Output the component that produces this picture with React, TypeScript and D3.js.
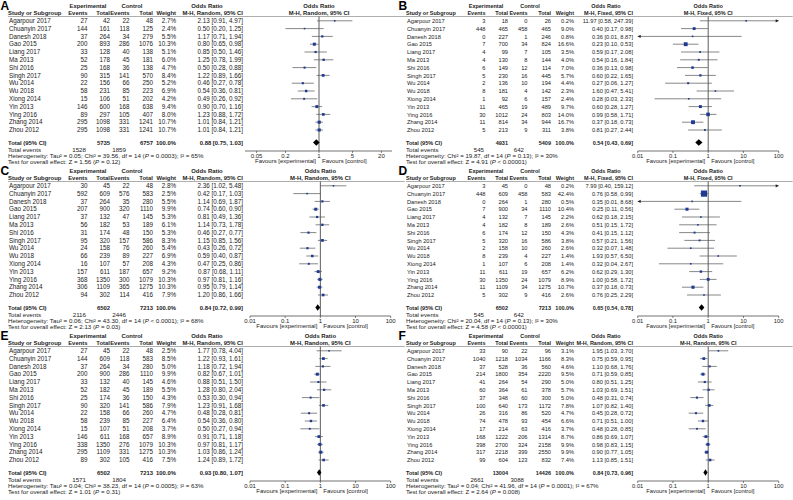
import React, { useEffect } from "react";
import * as d3 from "d3";

const studies = ["Agarpour 2017","Chuanyin 2017","Danesh 2018","Gao 2015","Liang 2017","Ma 2013","Shi 2016","Singh 2017","Wu 2014","Wu 2018","Xiong 2014","Yin 2013","Ying 2016","Zhang 2014","Zhou 2012"];

const ticksA = [0.05, 0.2, 1, 5, 20];
const ticksWide = [0.01, 0.1, 1, 10, 100];

// Panel A
const aExpEvents = [27,144,37,200,33,52,25,90,22,58,15,146,89,295,295];
const aExpTotal = [42,161,264,893,128,178,168,315,156,231,106,600,297,1098,1098];
const aCtlEvents = [22,118,34,286,40,45,36,141,66,85,51,168,105,331,331];
const aCtlTotal = [48,125,279,1076,138,181,138,570,250,223,202,638,407,1241,1241];
const aWeight = [2.7,2.4,5.5,10.3,5.1,6.0,4.7,8.4,5.2,6.9,4.2,9.4,8.0,10.7,10.7];
const aOR = [2.13,0.50,1.17,0.80,0.85,1.25,0.50,1.22,0.46,0.54,0.49,0.90,1.23,1.01,1.01];
const aLo = [0.91,0.20,0.71,0.65,0.50,0.78,0.28,0.89,0.27,0.36,0.26,0.70,0.88,0.84,0.84];
const aHi = [4.97,1.25,1.94,0.98,1.46,1.99,0.88,1.66,0.78,0.81,0.92,1.16,1.72,1.21,1.21];
const aTotal = [5735, 6757, 0.88, 0.75, 1.03];
const aEvents = [1528, 1859];
const aHet = "Heterogeneity: Tau² = 0.05; Chi² = 39.56, df = 14 (P = 0.0003); I² = 65%";
const aTest = "Test for overall effect: Z = 1.56 (P = 0.12)";

// Panel B
const bExpEvents = [3,448,0,7,4,4,6,5,2,8,1,11,30,11,5];
const bExpTotal = [18,465,227,700,99,130,149,230,136,181,92,465,1012,814,213];
const bCtlEvents = [0,458,1,34,7,8,12,16,10,4,6,19,24,34,9];
const bCtlTotal = [26,465,246,824,105,144,114,445,194,142,157,489,803,944,311];
const bWeight = [0.2,9.0,0.8,16.6,3.5,4.0,7.0,5.7,4.4,2.3,2.4,9.7,14.0,16.7,3.8];
const bOR = [11.97,0.40,0.36,0.23,0.59,0.54,0.36,0.60,0.27,1.60,0.28,0.60,0.99,0.37,0.81];
const bLo = [0.58,0.17,0.01,0.10,0.17,0.16,0.13,0.22,0.06,0.47,0.03,0.28,0.58,0.18,0.27];
const bHi = [247.39,0.98,8.87,0.53,2.08,1.84,0.98,1.65,1.27,5.41,2.33,1.27,1.71,0.73,2.44];
const bTotal = [4931, 5409, 0.54, 0.43, 0.69];
const bEvents = [545, 642];
const bHet = "Heterogeneity: Chi² = 19.87, df = 14 (P = 0.13); I² = 30%";
const bTest = "Test for overall effect: Z = 4.91 (P < 0.00001)";

// Panel C
const cExpEvents = [30,592,37,207,37,56,31,95,24,66,16,157,368,306,94];
const cExpTotal = [45,609,264,900,132,182,174,320,158,239,107,611,1350,1109,302];
const cCtlEvents = [22,576,35,320,47,53,48,157,76,89,57,187,300,365,114];
const cCtlTotal = [48,583,280,1110,145,189,150,586,260,227,208,657,1079,1275,416];
const cWeight = [2.8,2.5,5.5,9.9,5.3,6.1,5.3,8.3,5.4,6.9,4.3,9.2,10.3,10.3,7.9];
const cOR = [2.36,0.42,1.14,0.74,0.81,1.14,0.46,1.15,0.43,0.59,0.47,0.87,0.97,0.95,1.20];
const cLo = [1.02,0.17,0.69,0.60,0.49,0.73,0.27,0.85,0.26,0.40,0.25,0.68,0.81,0.79,0.86];
const cHi = [5.48,1.03,1.87,0.90,1.36,1.78,0.77,1.56,0.72,0.87,0.86,1.11,1.16,1.14,1.66];
const cTotal = [6502, 7213, 0.84, 0.72, 0.99];
const cEvents = [2116, 2446];
const cHet = "Heterogeneity: Tau² = 0.06; Chi² = 43.30, df = 14 (P < 0.0001); I² = 68%";
const cTest = "Test for overall effect: Z = 2.13 (P = 0.03)";

// Panel D
const dExpEvents = [3,448,0,7,4,4,6,5,2,8,1,11,30,11,5];
const dExpTotal = [45,609,264,900,132,182,174,320,158,239,107,611,1350,1109,302];
const dCtlEvents = [0,458,1,34,7,8,12,16,10,4,6,19,24,34,9];
const dCtlTotal = [48,583,280,1110,145,189,150,586,260,227,208,657,1079,1275,416];
const dWeight = [0.2,42.4,0.5,10.4,2.2,2.6,4.3,3.8,2.6,1.4,1.4,6.2,8.9,10.7,2.6];
const dOR = [7.99,0.76,0.35,0.25,0.62,0.51,0.41,0.57,0.32,1.93,0.32,0.62,1.00,0.37,0.76];
const dLo = [0.40,0.58,0.01,0.11,0.18,0.15,0.15,0.21,0.07,0.57,0.04,0.29,0.58,0.18,0.25];
const dHi = [159.12,0.99,8.68,0.56,2.15,1.72,1.12,1.56,1.48,6.50,2.67,1.30,1.72,0.73,2.29];
const dTotal = [6502, 7213, 0.65, 0.54, 0.78];
const dEvents = [545, 642];
const dHet = "Heterogeneity: Chi² = 20.04, df = 14 (P = 0.13); I² = 30%";
const dTest = "Test for overall effect: Z = 4.58 (P < 0.00001)";

// Panel E
const eExpEvents = [27,144,37,200,33,52,25,90,22,58,15,146,338,295,89];
const eExpTotal = [45,609,264,900,132,182,174,320,158,239,107,611,1350,1109,302];
const eCtlEvents = [22,118,34,286,40,45,36,141,66,85,51,168,276,331,105];
const eCtlTotal = [48,583,280,1110,145,189,150,586,260,227,208,657,1079,1275,416];
const eWeight = [2.5,8.5,5.0,9.9,4.6,5.5,4.3,7.9,4.7,6.4,3.7,8.9,10.3,10.3,7.5];
const eOR = [1.77,1.22,1.18,0.82,0.88,1.28,0.53,1.23,0.48,0.54,0.50,0.91,0.97,1.03,1.24];
const eLo = [0.78,0.93,0.72,0.67,0.51,0.80,0.30,0.91,0.28,0.36,0.27,0.71,0.81,0.86,0.89];
const eHi = [4.04,1.61,1.94,1.01,1.50,2.04,0.94,1.68,0.81,0.80,0.94,1.18,1.17,1.24,1.72];
const eTotal = [6502, 7213, 0.93, 0.80, 1.07];
const eEvents = [1571, 1804];
const eHet = "Heterogeneity: Tau² = 0.04; Chi² = 38.23, df = 14 (P = 0.0005); I² = 63%";
const eTest = "Test for overall effect: Z = 1.01 (P = 0.31)";

// Panel F
const fExpEvents = [33,1040,37,214,41,60,37,100,26,74,17,168,398,317,99];
const fExpTotal = [90,1218,528,1800,264,364,348,640,316,478,214,1222,2700,2218,604];
const fCtlEvents = [22,1034,36,354,54,61,60,173,86,93,63,206,324,399,123];
const fCtlTotal = [96,1166,560,2220,290,378,300,1172,520,454,416,1314,2158,2550,832];
const fWeight = [3.1,8.3,4.6,9.5,5.0,5.7,5.0,7.8,4.7,6.6,3.7,8.7,9.9,9.9,7.4];
const fOR = [1.95,0.75,1.10,0.71,0.80,1.03,0.48,1.07,0.45,0.71,0.48,0.86,0.98,0.90,1.13];
const fLo = [1.03,0.59,0.68,0.59,0.51,0.69,0.31,0.82,0.28,0.51,0.28,0.69,0.83,0.77,0.85];
const fHi = [3.70,0.95,1.76,0.85,1.25,1.51,0.74,1.40,0.72,1.00,0.85,1.07,1.15,1.05,1.51];
const fTotal = [13004, 14426, 0.84, 0.73, 0.96];
const fEvents = [2661, 3088];
const fHet = "Heterogeneity: Tau² = 0.04; Chi² = 41.96, df = 14 (P = 0.0001); I² = 67%";
const fTest = "Test for overall effect: Z = 2.64 (P = 0.008)";

const FONT = "'Liberation Sans', Arial, sans-serif";
const TXT = "#222";

type Sizes = { fs: number; hfs: number; nfs: number; afs: number };

type PanelProps = {
  letter: string; x0: number; y0: number; model: string; ticks: number[];
  domain: [number, number]; range: [number, number]; axisX: [number, number];
  ciRight: number; ciHead: number; sz: Sizes;
  expEv: number[]; expTot: number[]; ctlEv: number[]; ctlTot: number[];
  weight: number[]; or: number[]; lo: number[]; hi: number[];
  total: number[]; events: number[]; het: string; test: string;
};

const fmtCI = (o: number, l: number, h: number) => `${o.toFixed(2)} [${l.toFixed(2)}, ${h.toFixed(2)}]`;

function Itext({ s, x, y, size }: { s: string; x: number; y: number; size: number }) {
  const parts = s.split(/(?<=\()P/);
  return (
    <text x={x} y={y} fontSize={size} fill={TXT}>
      {parts.map((p, i) => (
        <React.Fragment key={i}>
          {i > 0 && <tspan fontStyle="italic">P</tspan>}
          <tspan>{p}</tspan>
        </React.Fragment>
      ))}
    </text>
  );
}

function Panel(p: PanelProps) {
  const x = d3.scaleLog().domain(p.domain).range(p.range);
  const rowY = (i: number) => 20.8 + i * 7.8;
  const totY = 142.5;
  const axisY = 151;
  const ruleY = 16.5;
  const { fs, hfs, nfs, afs } = p.sz;
  const xc = x(1);
  const minV = x.invert(p.axisX[0]);
  const maxV = x.invert(p.axisX[1]);
  const cols = { ev1: 87.5, tot1: 110, ev2: 129.5, tot2: 153, w: 176 };
  return (
    <g transform={`translate(${p.x0},${p.y0})`} fontFamily={FONT}>
      <text x={0.5} y={9.8} fontSize={12} fontWeight="bold" fill="#000">{p.letter}</text>
      <text x={88} y={7.5} fontSize={hfs} fontWeight="bold" fill={TXT} textAnchor="middle">Experimental</text>
      <text x={132} y={7.5} fontSize={hfs} fontWeight="bold" fill={TXT} textAnchor="middle">Control</text>
      <text x={p.ciHead} y={7.5} fontSize={hfs} fontWeight="bold" fill={TXT} textAnchor="middle">Odds Ratio</text>
      <text x={xc} y={7.5} fontSize={hfs} fontWeight="bold" fill={TXT} textAnchor="middle">Odds Ratio</text>
      <text x={8} y={14.5} fontSize={hfs} fontWeight="bold" fill={TXT}>Study or Subgroup</text>
      <text x={cols.ev1} y={14.5} fontSize={hfs} fontWeight="bold" fill={TXT} textAnchor="end">Events</text>
      <text x={cols.tot1} y={14.5} fontSize={hfs} fontWeight="bold" fill={TXT} textAnchor="end">Total</text>
      <text x={cols.ev2} y={14.5} fontSize={hfs} fontWeight="bold" fill={TXT} textAnchor="end">Events</text>
      <text x={cols.tot2} y={14.5} fontSize={hfs} fontWeight="bold" fill={TXT} textAnchor="end">Total</text>
      <text x={cols.w} y={14.5} fontSize={hfs} fontWeight="bold" fill={TXT} textAnchor="end">Weight</text>
      <text x={p.ciRight} y={14.5} fontSize={hfs} fontWeight="bold" fill={TXT} textAnchor="end">{p.model}</text>
      <text x={xc} y={14.5} fontSize={hfs} fontWeight="bold" fill={TXT} textAnchor="middle">{p.model}</text>
      <line x1={8} x2={p.axisX[1] + 14} y1={ruleY} y2={ruleY} stroke="#777" strokeWidth={0.6} />
      <line x1={xc} x2={xc} y1={ruleY} y2={axisY} stroke="#333" strokeWidth={0.8} />
      {studies.map((s, i) => {
        const y = rowY(i);
        const by = y + 2.1;
        const l = Math.max(p.lo[i], minV);
        const h = Math.min(p.hi[i], maxV);
        const side = Math.max(1.6, 0.95 * Math.sqrt(p.weight[i]));
        return (
          <g key={s}>
            <text x={9} y={by} fontSize={fs} fill={TXT}>{s}</text>
            <text x={cols.ev1} y={by} fontSize={fs} fill={TXT} textAnchor="end">{p.expEv[i]}</text>
            <text x={cols.tot1} y={by} fontSize={fs} fill={TXT} textAnchor="end">{p.expTot[i]}</text>
            <text x={cols.ev2} y={by} fontSize={fs} fill={TXT} textAnchor="end">{p.ctlEv[i]}</text>
            <text x={cols.tot2} y={by} fontSize={fs} fill={TXT} textAnchor="end">{p.ctlTot[i]}</text>
            <text x={cols.w} y={by} fontSize={fs} fill={TXT} textAnchor="end">{p.weight[i].toFixed(1)}%</text>
            <text x={p.ciRight} y={by} fontSize={fs} fill={TXT} textAnchor="end">{fmtCI(p.or[i], p.lo[i], p.hi[i])}</text>
            <line x1={x(l)} x2={x(h)} y1={y} y2={y} stroke="#555" strokeWidth={0.7} />
            {p.hi[i] > maxV && (
              <path d={`M${x(h)},${y} l-3,-1.6 l0,3.2 z`} fill="#222" />
            )}
            {p.lo[i] < minV && (
              <path d={`M${x(l)},${y} l3,-1.6 l0,3.2 z`} fill="#222" />
            )}
            <rect x={x(p.or[i]) - side / 2} y={y - side / 2} width={side} height={side} fill="#1f3a93" />
          </g>
        );
      })}
      <text x={8} y={totY + 2.1} fontSize={hfs} fontWeight="bold" fill={TXT}>Total (95% CI)</text>
      <text x={cols.tot1} y={totY + 2.1} fontSize={hfs} fontWeight="bold" fill={TXT} textAnchor="end">{p.total[0]}</text>
      <text x={cols.tot2} y={totY + 2.1} fontSize={hfs} fontWeight="bold" fill={TXT} textAnchor="end">{p.total[1]}</text>
      <text x={cols.w} y={totY + 2.1} fontSize={hfs} fontWeight="bold" fill={TXT} textAnchor="end">100.0%</text>
      <text x={p.ciRight} y={totY + 2.1} fontSize={hfs} fontWeight="bold" fill={TXT} textAnchor="end">{fmtCI(p.total[2], p.total[3], p.total[4])}</text>
      <path d={`M${x(p.total[3])},${totY} L${x(p.total[2])},${totY - 3.2} L${x(p.total[4])},${totY} L${x(p.total[2])},${totY + 3.2} Z`} fill="#000" />
      <text x={8} y={totY + 9.6} fontSize={nfs} fill={TXT}>Total events</text>
      <text x={86} y={totY + 9.6} fontSize={nfs} fill={TXT} textAnchor="end">{p.events[0]}</text>
      <text x={126} y={totY + 9.6} fontSize={nfs} fill={TXT} textAnchor="end">{p.events[1]}</text>
      <Itext s={p.het} x={8} y={totY + 15.3} size={nfs} />
      <Itext s={p.test} x={8} y={totY + 21} size={nfs} />
      <line x1={p.axisX[0]} x2={p.axisX[1]} y1={axisY} y2={axisY} stroke="#333" strokeWidth={0.7} />
      {p.ticks.map((t) => (
        <g key={t}>
          <line x1={x(t)} x2={x(t)} y1={axisY} y2={axisY + 2} stroke="#333" strokeWidth={0.6} />
          <text x={x(t)} y={axisY + 7} fontSize={afs} fill={TXT} textAnchor="middle">{String(t)}</text>
        </g>
      ))}
      <text x={xc - 3} y={axisY + 12.3} fontSize={afs} fill={TXT} textAnchor="end">Favours [experimental]</text>
      <text x={xc + 3} y={axisY + 12.3} fontSize={afs} fill={TXT}>Favours [control]</text>
    </g>
  );
}

export default function App() {
  useEffect(() => {
    document.body.style.margin = "0";
  }, []);
  const leftSz: Sizes = { fs: 6.3, hfs: 5.9, nfs: 6.2, afs: 6.0 };
  const rightSz: Sizes = { fs: 5.7, hfs: 5.5, nfs: 6.1, afs: 5.8 };
  const left = { ciRight: 243, ciHead: 207, sz: leftSz, ticks: ticksWide, domain: [0.01, 100] as [number, number], range: [250, 390.7] as [number, number], axisX: [250, 390.7] as [number, number] };
  const right = { ciRight: 235, ciHead: 208, sz: rightSz, ticks: ticksWide, domain: [0.01, 100] as [number, number], range: [239.7, 380.7] as [number, number], axisX: [239.7, 380.7] as [number, number] };
  return (
    <svg width={793} height={500} style={{ position: "absolute", left: 0, top: 0, background: "#fff" }}>
      <rect width={793} height={500} fill="#fff" />
      <Panel letter="A" x0={0} y0={0} model="M-H, Random, 95% CI" ciRight={243} ciHead={207} sz={leftSz} ticks={ticksA}
        domain={[0.05, 20]} range={[256.6, 381.4]} axisX={[245, 392]}
        expEv={aExpEvents} expTot={aExpTotal} ctlEv={aCtlEvents} ctlTot={aCtlTotal} weight={aWeight}
        or={aOR} lo={aLo} hi={aHi} total={aTotal} events={aEvents} het={aHet} test={aTest} />
      <Panel letter="B" x0={398} y0={0} model="M-H, Fixed, 95% CI" {...right}
        expEv={bExpEvents} expTot={bExpTotal} ctlEv={bCtlEvents} ctlTot={bCtlTotal} weight={bWeight}
        or={bOR} lo={bLo} hi={bHi} total={bTotal} events={bEvents} het={bHet} test={bTest} />
      <Panel letter="C" x0={0} y0={165} model="M-H, Random, 95% CI" {...left}
        expEv={cExpEvents} expTot={cExpTotal} ctlEv={cCtlEvents} ctlTot={cCtlTotal} weight={cWeight}
        or={cOR} lo={cLo} hi={cHi} total={cTotal} events={cEvents} het={cHet} test={cTest} />
      <Panel letter="D" x0={398} y0={165} model="M-H, Fixed, 95% CI" {...right}
        expEv={dExpEvents} expTot={dExpTotal} ctlEv={dCtlEvents} ctlTot={dCtlTotal} weight={dWeight}
        or={dOR} lo={dLo} hi={dHi} total={dTotal} events={dEvents} het={dHet} test={dTest} />
      <Panel letter="E" x0={0} y0={330} model="M-H, Random, 95% CI" {...left}
        expEv={eExpEvents} expTot={eExpTotal} ctlEv={eCtlEvents} ctlTot={eCtlTotal} weight={eWeight}
        or={eOR} lo={eLo} hi={eHi} total={eTotal} events={eEvents} het={eHet} test={eTest} />
      <Panel letter="F" x0={398} y0={330} model="M-H, Random, 95% CI" {...right}
        expEv={fExpEvents} expTot={fExpTotal} ctlEv={fCtlEvents} ctlTot={fCtlTotal} weight={fWeight}
        or={fOR} lo={fLo} hi={fHi} total={fTotal} events={fEvents} het={fHet} test={fTest} />
    </svg>
  );
}
